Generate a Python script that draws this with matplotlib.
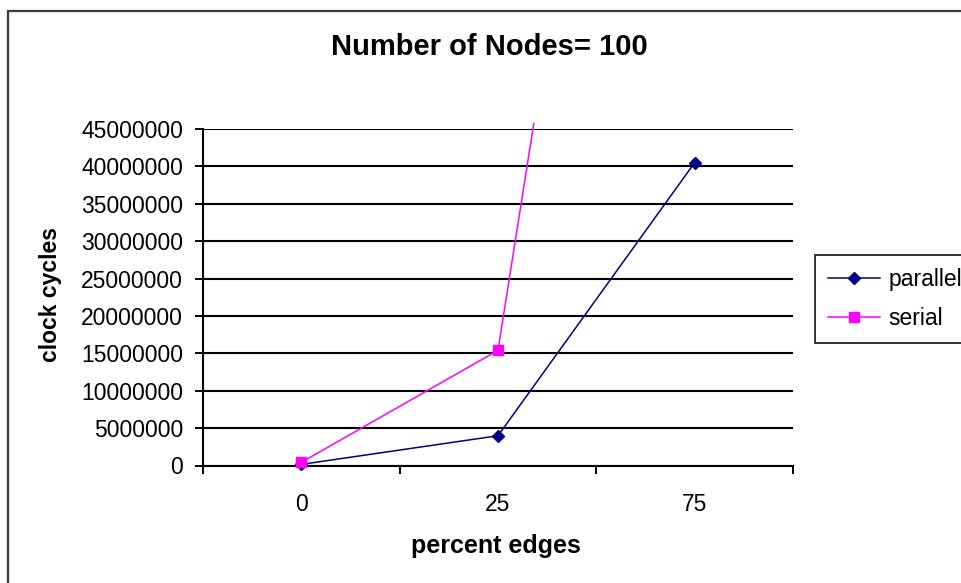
import matplotlib
matplotlib.use("Agg")
import matplotlib.pyplot as plt
from matplotlib.patches import Rectangle
from matplotlib.ticker import FixedLocator, NullFormatter

# Data
categories = ["0", "25", "75"]
parallel = [150000, 3980000, 40500000]
serial = [420000, 15400000, 182000000]
y_ticks = list(range(0, 45000001, 5000000))

plt.rcParams["font.family"] = ["Liberation Sans", "DejaVu Sans"]

W, H = 961, 583
fig = plt.figure(figsize=(W / 100, H / 100), dpi=100)
fig.patch.set_facecolor("white")

# Outer chart frame (runs off the right and bottom edges)
fig.patches.append(Rectangle((8 / W, -0.05), 1.1, 1 - 11 / H + 0.05,
                             transform=fig.transFigure, fill=False,
                             edgecolor="#3a3a3a", linewidth=1.6))

ax = fig.add_axes([203 / W, (H - 465.5) / H, 590 / W, 336.5 / H])
ax.set_facecolor("white")

x = list(range(len(categories)))
lp, = ax.plot(x, parallel, color="#000080", linewidth=1.1, marker="D",
              markersize=6.5, markerfacecolor="#000080",
              markeredgecolor="#000080", label="parallel", zorder=3)
ls, = ax.plot(x, serial, color="#FF00FF", linewidth=1.1, marker="s",
              markersize=7.5, markerfacecolor="#FF00FF",
              markeredgecolor="#FF00FF", label="serial", zorder=4)

clip = Rectangle((-0.05, -0.1), 1.1, 1.118, transform=ax.transAxes)
for ln in (lp, ls):
    ln.set_clip_path(clip)

ax.set_xlim(-0.5, len(categories) - 0.5)
ax.set_ylim(0, 45000000)

# Category boundaries as major ticks, labels centred on minor ticks
ax.xaxis.set_major_locator(FixedLocator([i - 0.5 for i in range(len(categories) + 1)]))
ax.xaxis.set_major_formatter(NullFormatter())
ax.xaxis.set_minor_locator(FixedLocator(x))
ax.set_xticklabels(categories, minor=True)
ax.tick_params(axis="x", which="major", direction="out", length=5.5, width=1.4, color="black")
ax.tick_params(axis="x", which="minor", length=0, pad=20, labelsize=16.5)

ax.set_yticks(y_ticks)
ax.set_yticklabels([str(v) for v in y_ticks])
ax.tick_params(axis="y", direction="out", length=5.8, width=1.4, pad=8.5,
               labelsize=16.5, color="black")

ax.grid(axis="y", color="black", linewidth=1.5)
ax.set_axisbelow(True)
for side in ("top", "right"):
    ax.spines[side].set_visible(False)
for side in ("left", "bottom"):
    ax.spines[side].set_linewidth(1.5)
    ax.spines[side].set_color("black")

ax.set_title("Number of Nodes= 100", fontsize=21, fontweight="bold",
             x=(489 - 203) / 590, y=1 + (129 - 47) / 336.5, pad=0, va="center")
ax.set_xlabel("percent edges", fontsize=18, fontweight="bold", va="center")
ax.xaxis.set_label_coords((496 - 203) / 590, -(546 - 465.5) / 336.5)
ax.set_ylabel("clock cycles", fontsize=16.5, fontweight="bold", va="center")
ax.yaxis.set_label_coords((50 - 203) / 590, (465.5 - 295) / 336.5)

leg = ax.legend(loc="upper left", bbox_to_anchor=(815 / W, 1 - 255 / H),
                bbox_transform=fig.transFigure, fontsize=16.5, frameon=True,
                fancybox=False, borderaxespad=0, borderpad=0.55,
                labelspacing=0.72, handlelength=2.3, handletextpad=0.35)
leg.get_frame().set_edgecolor("black")
leg.get_frame().set_linewidth(1.4)

fig.savefig("out.png", dpi=100, facecolor="white")
